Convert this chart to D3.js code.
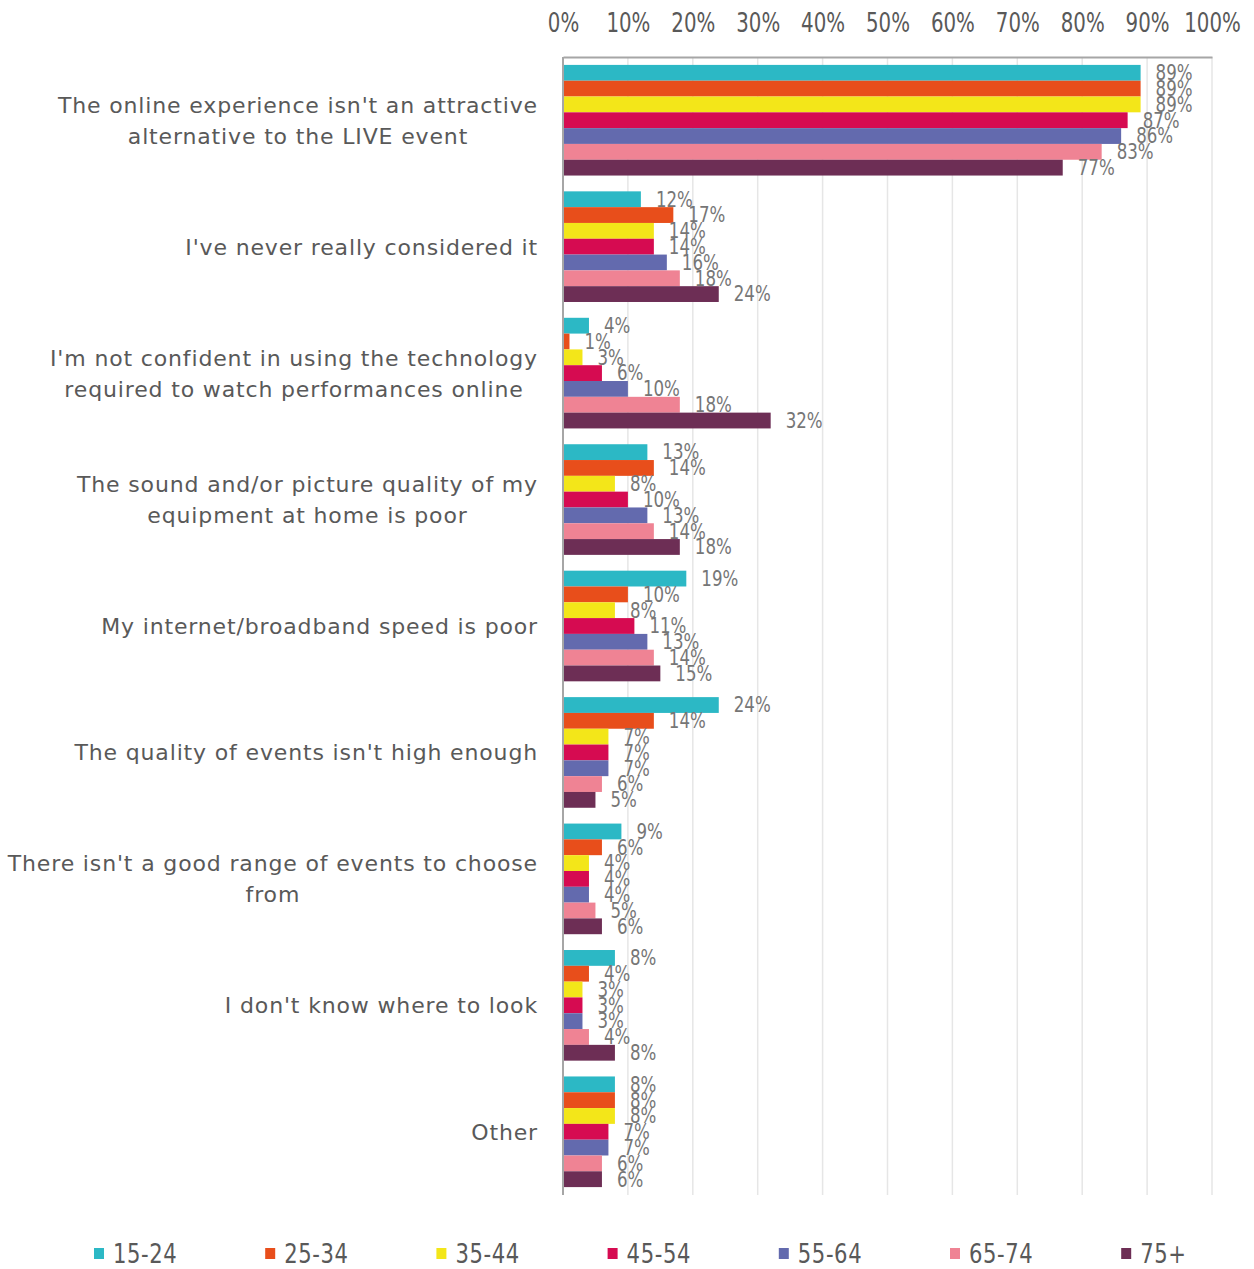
<!DOCTYPE html>
<html>
<head>
<meta charset="utf-8">
<script src="https://cdn.jsdelivr.net/npm/d3@7"></script>
<style>
  html, body { margin: 0; padding: 0; background: #fff; }
  svg { display: block; font-family: "DejaVu Sans Condensed", "DejaVu Sans", sans-serif; }
</style>
</head>
<body>
<svg id="chart" width="1254" height="1269"></svg>
<script>
// Reasons for not watching performances online, by age group (% of respondents)
const categories = [
  ["The online experience isn't an attractive", "alternative to the LIVE event"],
  ["I've never really considered it"],
  ["I'm not confident in using the technology", "required to watch performances online"],
  ["The sound and/or picture quality of my", "equipment at home is poor"],
  ["My internet/broadband speed is poor"],
  ["The quality of events isn't high enough"],
  ["There isn't a good range of events to choose", "from"],
  ["I don't know where to look"],
  ["Other"]
];

const ageGroups = ["15-24", "25-34", "35-44", "45-54", "55-64", "65-74", "75+"];

const age15_24 = [89, 12, 4, 13, 19, 24, 9, 8, 8];
const age25_34 = [89, 17, 1, 14, 10, 14, 6, 4, 8];
const age35_44 = [89, 14, 3, 8, 8, 7, 4, 3, 8];
const age45_54 = [87, 14, 6, 10, 11, 7, 4, 3, 7];
const age55_64 = [86, 16, 10, 13, 13, 7, 4, 3, 7];
const age65_74 = [83, 18, 18, 14, 14, 6, 5, 4, 6];
const age75plus = [77, 24, 32, 18, 15, 5, 6, 8, 6];

const xTicks = [0, 10, 20, 30, 40, 50, 60, 70, 80, 90, 100];

const seriesValues = [age15_24, age25_34, age35_44, age45_54, age55_64, age65_74, age75plus];
const colors = ["#2cb8c5", "#e84e1b", "#f3e619", "#d60b51", "#636aae", "#ef8394", "#6d2e55"];

const svg = d3.select("#chart");
const plot = { left: 563, right: 1212, top: 57, bottom: 1195 };
const tickStretch = 1.2;  // tall, narrow lettering on the axis
const valueStretch = 1.1;

const x = d3.scaleLinear().domain([0, 100]).range([plot.left, plot.right]);
const y = d3.scaleBand()
  .domain(d3.range(categories.length))
  .range([plot.top, plot.bottom])
  .paddingInner(0.125)
  .paddingOuter(0.0625);
const ySub = d3.scaleBand()
  .domain(d3.range(ageGroups.length))
  .range([0, y.bandwidth()]);
const color = d3.scaleOrdinal().domain(ageGroups).range(colors);

// vertical gridlines
svg.append("g")
  .selectAll("line")
  .data(xTicks)
  .join("line")
  .attr("x1", d => x(d)).attr("x2", d => x(d))
  .attr("y1", plot.top).attr("y2", plot.bottom)
  .attr("stroke", "#e6e6e6")
  .attr("stroke-width", 1.5);

// top axis: domain line from d3, labels stretched vertically
const xAxis = svg.append("g")
  .attr("transform", `translate(0,${plot.top})`)
  .call(d3.axisTop(x).tickValues(xTicks).tickSize(0).tickFormat(d => d + "%"));
xAxis.select(".domain").attr("stroke", "#a6a6a6").attr("stroke-width", 2);
xAxis.selectAll(".tick text")
  .attr("x", 0).attr("y", 0).attr("dy", "0.36em")
  .attr("transform", `translate(0,${22 - plot.top}) scale(1,${tickStretch})`)
  .attr("font-size", 22)
  .attr("fill", "#595959")
  .attr("font-family", "\"DejaVu Sans Condensed\", \"DejaVu Sans\", sans-serif");

// bars
const groups = svg.append("g")
  .selectAll("g")
  .data(categories.map((c, i) => i))
  .join("g")
  .attr("transform", i => `translate(0,${y(i)})`);

groups.selectAll("rect")
  .data(i => seriesValues.map((vals, s) => ({ s, v: vals[i] })))
  .join("rect")
  .attr("x", x(0))
  .attr("y", d => ySub(d.s))
  .attr("width", d => x(d.v) - x(0))
  .attr("height", ySub.bandwidth())
  .attr("fill", d => color(ageGroups[d.s]));

// value labels
groups.selectAll("text")
  .data(i => seriesValues.map((vals, s) => ({ s, v: vals[i] })))
  .join("text")
  .attr("transform", d => `translate(${x(d.v) + 15},${ySub(d.s) + ySub.bandwidth() / 2}) scale(1,${valueStretch})`)
  .attr("dy", "0.36em")
  .attr("font-size", 18.5)
  .attr("fill", "#767676")
  .text(d => d.v + "%");

// left axis line
svg.append("line")
  .attr("x1", plot.left).attr("x2", plot.left)
  .attr("y1", plot.top).attr("y2", plot.bottom)
  .attr("stroke", "#a6a6a6")
  .attr("stroke-width", 2);

// category labels: block right-aligned, lines centred within the block
const lineH = 31;
const labelRight = 538;
const catG = svg.append("g");
categories.forEach((lines, i) => {
  const cy = y(i) + y.bandwidth() / 2;
  const t = catG.append("text")
    .attr("font-family", "\"DejaVu Sans\", sans-serif")
    .attr("font-size", 22)
    .attr("letter-spacing", 0.85)
    .attr("fill", "#595959")
    .attr("text-anchor", "middle");
  const spans = lines.map((ln, k) =>
    t.append("tspan")
      .attr("y", cy + (k - (lines.length - 1) / 2) * lineH)
      .attr("dy", "0.36em")
      .text(ln));
  const widths = spans.map(s => s.node().getComputedTextLength());
  const w = d3.max(widths);
  spans.forEach(s => s.attr("x", labelRight - w / 2));
});

// legend
const legend = svg.append("g")
  .selectAll("g")
  .data(ageGroups)
  .join("g")
  .attr("transform", (d, i) => `translate(${94 + i * 171.2},1248)`);
legend.append("rect")
  .attr("width", 10).attr("height", 11)
  .attr("fill", d => color(d));
legend.append("text")
  .attr("transform", `translate(19,5.5) scale(1,1.1)`)
  .attr("dy", "0.36em")
  .attr("font-size", 23.5)
  .attr("letter-spacing", 0.6)
  .attr("fill", "#595959")
  .text(d => d);
</script>
</body>
</html>
